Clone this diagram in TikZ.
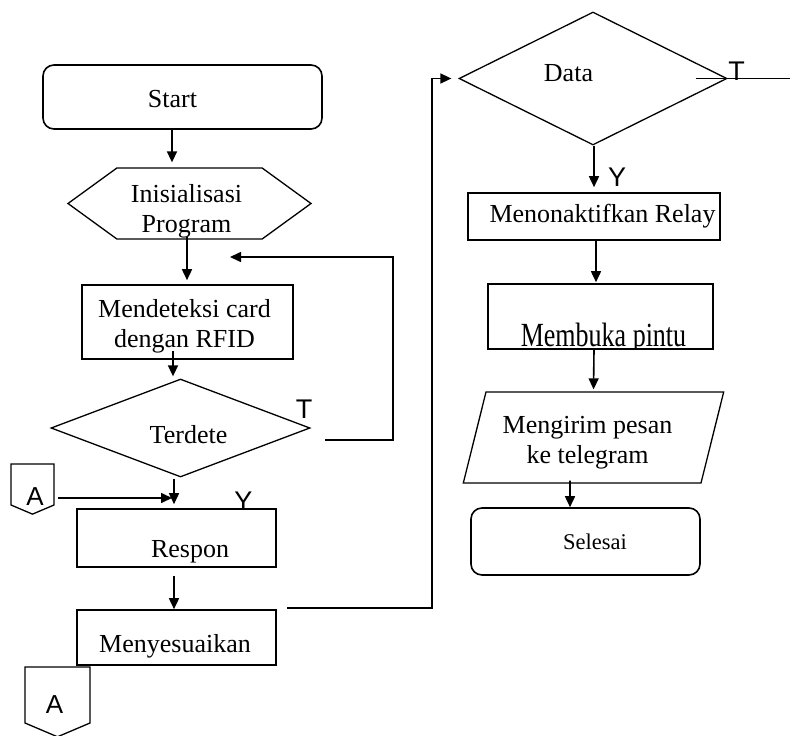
\documentclass[tikz,border=0pt]{standalone}
\usepackage{fontspec}
\setmainfont{Liberation Serif}
\newfontfamily\ytfont{Liberation Sans}
\usetikzlibrary{shapes.geometric,shapes.symbols,arrows.meta}

\tikzset{
  process/.style={draw,rectangle,line width=1.6pt,inner sep=0pt},
  terminal/.style={draw,rectangle,rounded corners=11pt,line width=1.6pt,inner sep=0pt},
  decision/.style={draw,diamond,line width=1.3pt,inner sep=0pt},
  prep/.style={draw,signal,signal to=east and west,signal pointer angle=72,line width=1.3pt,inner sep=0pt},
  io/.style={draw,trapezium,trapezium left angle=76,trapezium right angle=104,line width=1.3pt,inner sep=0pt},
  offpage/.style={draw,signal,signal to=south,signal pointer angle=134,line width=1.3pt,inner sep=0pt},
  aletter/.style={font=\ytfont\fontsize{26}{26}\selectfont},
  flow/.style={-{Triangle[length=11pt,width=10pt]},line width=1.6pt},
  plain/.style={line width=1.6pt},
  yt/.style={font=\ytfont\fontsize{27}{27}\selectfont,inner sep=0pt}
}

\begin{document}
\begin{tikzpicture}[x=1pt,y=-1pt,every node/.style={font=\fontsize{26}{30}\selectfont,align=center},every label/.style={inner sep=0pt}]
\useasboundingbox (0,0) rectangle (790,736);

\node[terminal,minimum width=279pt,minimum height=64pt,label={[shift={(-10,2)}]center:Start}] (start) at (182.5,97) {};
\node[prep,minimum width=243pt,minimum height=71pt,label={[shift={(-3,8)}]center:Inisialisasi\\Program}] (init) at (189.5,203.5) {};
\node[process,minimum width=211pt,minimum height=74pt,label={[shift={(-3,4.5)}]center:Mendeteksi card\\dengan RFID}] (detect) at (187.5,322) {};
\node[decision,minimum width=259pt,minimum height=98pt,label={[shift={(8,6.5)}]center:Terdete}] (cek) at (180.5,428) {};
\node[process,minimum width=199pt,minimum height=58pt,label={[shift={(13.5,14)}]center:Respon}] (respon) at (176.5,538) {};
\node[process,minimum width=199pt,minimum height=55pt,label={[shift={(-1.5,8.5)}]center:Menyesuaikan}] (sesuai) at (176.5,637.5) {};
\node[offpage,minimum width=43pt,minimum height=41pt,label={[aletter,shift={(2.5,12)}]center:A}] (ain) at (32.5,484.5) {};
\node[offpage,minimum width=65pt,minimum height=56pt,label={[aletter,shift={(-3,10)}]center:A}] (aout) at (57.5,695) {};

\node[decision,minimum width=268pt,minimum height=133pt,label={[shift={(-24.5,-5.5)}]center:Data}] (data) at (593,78.5) {};
\node[process,minimum width=252pt,minimum height=47pt,label={[shift={(8.5,0)}]center:Menonaktifkan Relay}] (relay) at (594,216.5) {};
\node[process,minimum width=225pt,minimum height=65pt] (buka) at (600.5,316.5) {};
\begin{scope}
  \clip (buka.south west) rectangle (buka.north east);
  \node[anchor=base] (bukatext) at (603.5,346) {\scalebox{1}[1.3]{Membuka pintu}};
\end{scope}
\node[io,text width=215pt,text height=45.5pt,text depth=45.5pt,label={[shift={(-6,5)}]center:Mengirim pesan\\ke telegram}] (kirim) at (593.5,437.5) {};
\node[terminal,minimum width=229pt,minimum height=67pt,label={[shift={(9.5,0)},font=\fontsize{22.5}{26}\selectfont]center:Selesai}] (selesai) at (585.5,541.5) {};

\node[yt] (tcek) at (304,409) {T};
\node[yt] (ycek) at (243.5,501.5) {Y};
\node[yt] (tdata) at (736.5,71) {T};
\node[yt] (ydata) at (617,177.5) {Y};

\coordinate (ahit) at (172,498);
\coordinate (tout) at (325,440);
\coordinate (tback) at (230,257);
\coordinate (mout) at (287,608);

\draw[flow] ([xshift=-10.5pt]start.south) -- ([xshift=-17.5pt,yshift=5pt]init.north);
\draw[flow] ([xshift=-2.5pt,yshift=3pt]init.south) -- ([xshift=-0.5pt,yshift=4pt]detect.north);
\draw[flow] ([xshift=-14.5pt,yshift=9pt]detect.south) -- ([xshift=-7.5pt,yshift=2pt]cek.north);
\draw[flow] ([xshift=-6.5pt,yshift=-1pt]cek.south) -- ([xshift=-2.5pt,yshift=4pt]respon.north);
\draw[flow] (ahit -| ain.east) ++(3,0) -- (ahit);
\draw[flow] ([xshift=-2.5pt,yshift=-8pt]respon.south) -- ([xshift=-2.5pt]sesuai.north);
\draw[flow] (tout) -- ++(68,0) |- (tback);
\draw[flow] (mout) -- ++(145,0) |- ([xshift=-7pt]data.west);

\draw[flow] ([xshift=1pt]data.south) -- ([yshift=5pt]relay.north);
\draw[flow] ([xshift=2pt]relay.south) -- ([xshift=-4.5pt,yshift=1pt]buka.north);
\draw[flow] ([xshift=-6.5pt]buka.south) -- ([yshift=2pt]kirim.north);
\draw[flow] ([xshift=-23.5pt,yshift=3pt]kirim.south) -- ([xshift=-15.5pt]selesai.north);
\draw[plain] ([xshift=-32pt]data.east) -- ([xshift=63pt]data.east);

\end{tikzpicture}
\end{document}
